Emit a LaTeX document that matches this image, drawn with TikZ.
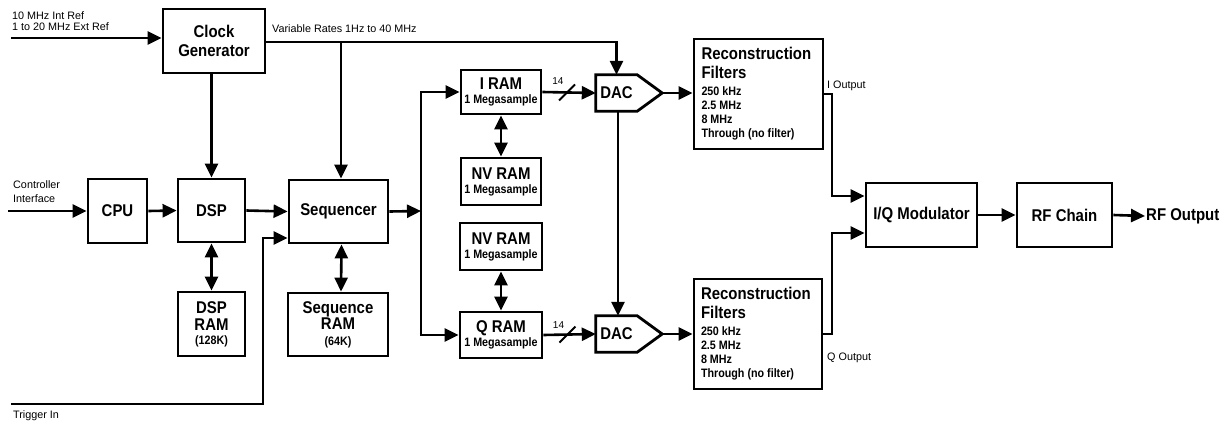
\documentclass[tikz,border=0pt]{standalone}
\usepackage{fontspec}
\setmainfont{Liberation Sans}
\newfontfamily\bnar{Liberation Sans}[FakeStretch=0.88]
\usetikzlibrary{arrows.meta,calc}
\newcommand\bigb{\bnar\bfseries\fontsize{17}{18}\selectfont}
\newcommand\smb{\bnar\bfseries\fontsize{12.2}{14}\selectfont}
\newcommand\lab{\fontsize{10.8}{11.5}\selectfont}
\begin{document}
\begin{tikzpicture}[x=1pt,y=-1pt,
  box/.style={draw, line width=2.8pt, inner sep=0pt, font=\bigb, align=center},
  wire/.style={line width=2.6pt},
  arr/.style={wire, -{Triangle[length=14pt,width=13pt]}},
  darr/.style={wire, {Triangle[length=14pt,width=13pt]}-{Triangle[length=14pt,width=13pt]}},
  lbl/.style={font=\lab, inner sep=0pt, align=left},
  dacbox/.style={draw=none, inner sep=0pt, minimum width=41, minimum height=36, font=\bigb},
  dacshape/.style={line width=2.8pt, line join=miter},
]
\useasboundingbox (0,0) rectangle (1228,423);

% boxes
\node[box, minimum width=102, minimum height=64, font=\bnar\bfseries\fontsize{17}{19}\selectfont] (clk) at (214,41) {Clock\\Generator};
\node[box, minimum width=59, minimum height=64] (cpu) at (117.5,211) {CPU};
\node[box, minimum width=67, minimum height=63] (dsp) at (211.5,210.5) {DSP};
\node[box, minimum width=99, minimum height=63] (seq) at (338.5,211.5) {Sequencer};
\node[box, minimum width=67, minimum height=64] (dspram) at (211.5,324)
  {\parbox{66pt}{\centering\fontsize{17}{17}\selectfont DSP\\RAM\par\smb(128K)}};
\node[box, minimum width=100, minimum height=63] (seqram) at (338,324.5)
  {\parbox{98pt}{\centering\fontsize{17}{16}\selectfont Sequence\\RAM\par\bnar\bfseries\fontsize{12.2}{16}\selectfont(64K)}};
\node[box, minimum width=80, minimum height=44] (iram) at (501,92)
  {\parbox{78pt}{\centering\fontsize{17}{17}\selectfont I RAM\par\smb 1 Megasample}};
\node[box, minimum width=80, minimum height=47] (nv1) at (501,181.5)
  {\parbox{78pt}{\centering\fontsize{17}{17}\selectfont NV RAM\par\smb 1 Megasample}};
\node[box, minimum width=82, minimum height=47] (nv2) at (501,246.5)
  {\parbox{80pt}{\centering\fontsize{17}{17}\selectfont NV RAM\par\smb 1 Megasample}};
\node[box, minimum width=82, minimum height=46] (qram) at (501,335)
  {\parbox{80pt}{\centering\fontsize{17}{17}\selectfont Q RAM\par\smb 1 Megasample}};

% DACs
\node[dacbox] (dacI) at (616.5,93) {DAC};
\draw[dacshape] (dacI.north west) -- (dacI.north east) -- ($(dacI.east)+(25,0)$) coordinate (dacItip)
  -- (dacI.south east) -- (dacI.south west) -- cycle;
\node[dacbox] (dacQ) at (616.5,334) {DAC};
\draw[dacshape] (dacQ.north west) -- (dacQ.north east) -- ($(dacQ.east)+(25,0)$) coordinate (dacQtip)
  -- (dacQ.south east) -- (dacQ.south west) -- cycle;

% filters
\node[box, minimum width=129, minimum height=110] (filtI) at (758.5,94)
  {\parbox{114pt}{\raggedright\fontsize{17}{19}\selectfont Reconstruction\\Filters\par\vspace{3pt}\smb 250 kHz\\2.5 MHz\\8 MHz\\Through (no filter)}};
\node[box, minimum width=128, minimum height=110] (filtQ) at (758,334)
  {\parbox{114pt}{\raggedright\fontsize{17}{19}\selectfont Reconstruction\\Filters\par\vspace{3pt}\smb 250 kHz\\2.5 MHz\\8 MHz\\Through (no filter)}};

\node[box, minimum width=111, minimum height=64] (iq) at (921.5,215) {I/Q Modulator};
\node[box, minimum width=95, minimum height=64] (rf) at (1064.5,215) {RF Chain};
\node[font=\bigb, anchor=west, inner sep=1pt] (rfout) at (1145,216) {RF Output};

% labels
\node[lbl, anchor=north west] (reflab) at (12,11) {10 MHz Int Ref\\1 to 20 MHz Ext Ref};
\node[lbl, anchor=base west] (vrlab) at (272,32) {Variable Rates 1Hz to 40 MHz};
\node[lbl, anchor=north west, font=\fontsize{10.8}{13.5}\selectfont] (ctllab) at (13,180.5) {Controller\\Interface};
\node[lbl, anchor=base west] (trglab) at (13,418) {Trigger In};
\node[lbl, anchor=base west] (ioutlab) at (827,88) {I Output};
\node[lbl, anchor=base west] (qoutlab) at (827,360) {Q Output};

% coordinates
\coordinate (ref) at (11,38);
\coordinate (ctl) at (8,211);
\coordinate (trg) at (11,404);
\coordinate (trgc) at (263,238);
\coordinate (bus) at (421,211);
\coordinate (iqa) at (832,196);
\coordinate (iqb) at (832,233);

% connectors
\draw[arr] (ref) -- (ref -| clk.west);
\draw[arr] ([yshift=-1pt]clk.east) -- ([yshift=-1pt]clk.east -| dacI.north) -- (dacI.north);
\draw[arr] ([xshift=2.5pt,yshift=-1pt]clk.east -| seq.north) -- ([xshift=2.5pt]seq.north);
\draw[arr] (dsp.north |- clk.south) -- (dsp.north);
\draw[arr] (ctl) -- (cpu.west);
\draw[arr] (cpu.east) -- (dsp.west);
\draw[arr] (dsp.east) -- (seq.west);
\draw[arr] (trg) -| (trgc) -- (trgc -| seq.west);
\draw[darr] (dsp.south) -- (dspram.north);
\draw[darr] ([xshift=3pt]seq.south) -- ([xshift=3pt]seqram.north);
\draw[arr] (seq.east) -- (bus);
\draw[arr] (bus) |- (iram.west);
\draw[arr] (bus) |- (qram.west);
\draw[darr] (iram.south) -- (nv1.north);
\draw[darr] (nv2.south) -- (qram.north);
\draw[arr] (iram.east) -- (dacI.west);
\draw[arr] (qram.east) -- (dacQ.west);
\draw[arr] ([xshift=1.5pt]dacI.south) -- ([xshift=1.5pt]dacQ.north);
\draw[arr] (dacItip) -- (dacItip -| filtI.west);
\draw[arr] (dacQtip) -- (dacQtip -| filtQ.west);
\draw[arr] (filtI.east) -| (iqa) -- (iqa -| iq.west);
\draw[arr] (filtQ.east) -| (iqb) -- (iqb -| iq.west);
\draw[arr] (iq.east) -- (rf.west);
\draw[arr] (rf.east) -- (rfout.west);

% bus width marks
\coordinate (slI) at ($(iram.east)!0.46!(dacI.west)$);
\coordinate (slQ) at ($(qram.east)!0.46!(dacQ.west)$);
\draw[line width=2pt] ($(slI)+(-8,8)$) -- ($(slI)+(8,-8)$);
\draw[line width=2pt] ($(slQ)+(-8,8)$) -- ($(slQ)+(8,-8)$);
\node[lbl, anchor=base, font=\fontsize{10}{11}\selectfont] (wI) at ($(slI)+(-9,-8)$) {14};
\node[lbl, anchor=base, font=\fontsize{10}{11}\selectfont] (wQ) at ($(slQ)+(-9,-6)$) {14};
\end{tikzpicture}
\end{document}
